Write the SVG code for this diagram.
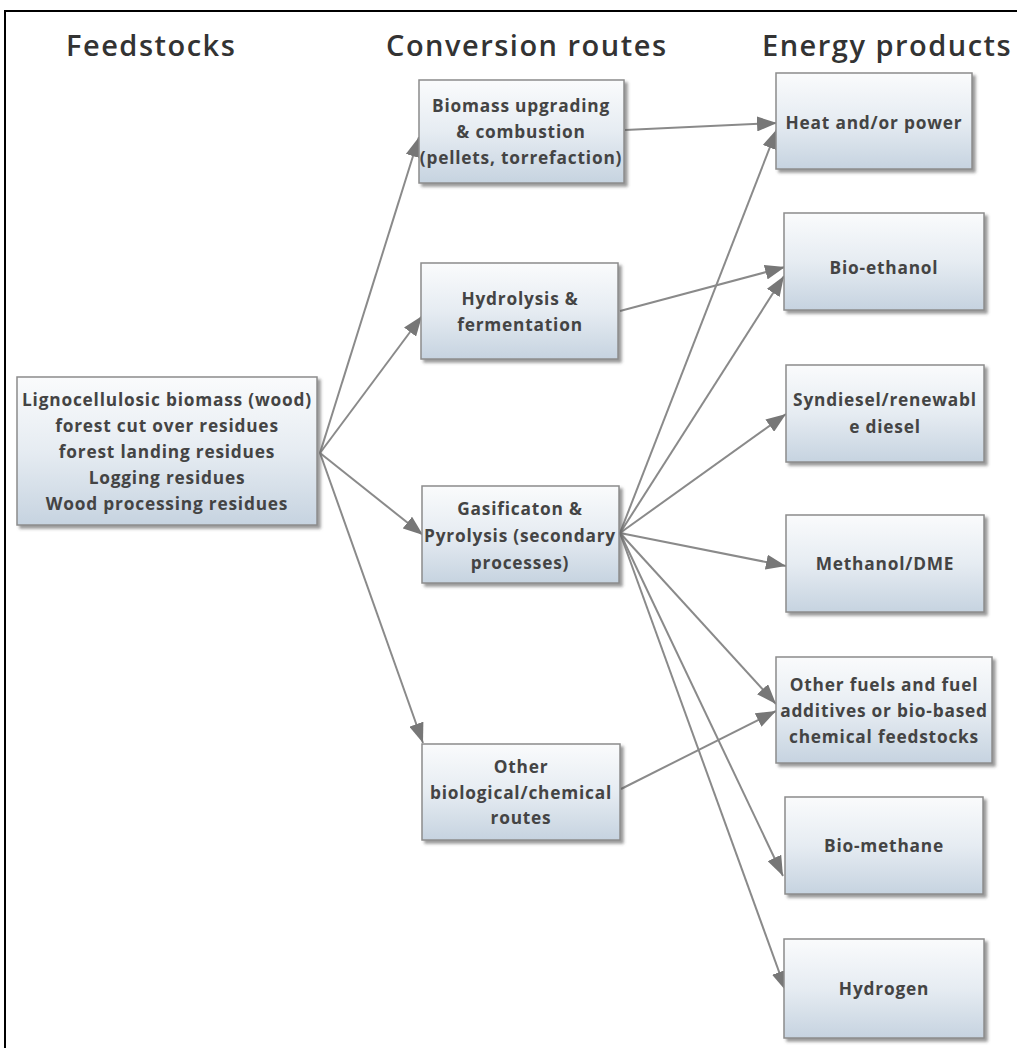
<svg xmlns="http://www.w3.org/2000/svg" width="1017" height="1048" viewBox="0 0 1017 1048">
<style>
.title{font-family:"Open Sans","Liberation Sans",sans-serif;font-weight:600;font-size:29px;letter-spacing:1.5px;fill:#333;text-anchor:start}
.lbl{font-family:"Open Sans","Liberation Sans",sans-serif;font-weight:700;font-size:17.3px;letter-spacing:0.8px;fill:#444;text-anchor:middle}
.box{fill:url(#g);stroke:#8c8c8c;stroke-width:1.5;filter:url(#sh)}
.con{stroke:#8a8a8a;stroke-width:2;fill:none;marker-end:url(#ah)}
</style>
<defs>
<linearGradient id="g" x1="0" y1="0" x2="0" y2="1">
<stop offset="0" stop-color="#fafbfc"/>
<stop offset="0.5" stop-color="#e6ecf2"/>
<stop offset="1" stop-color="#c6d3e0"/>
</linearGradient>
<filter id="sh" x="-10%" y="-10%" width="130%" height="130%">
<feDropShadow dx="3" dy="3" stdDeviation="1.5" flood-color="#555" flood-opacity="0.6"/>
</filter>
<marker id="ah" markerUnits="userSpaceOnUse" markerWidth="21" markerHeight="15" refX="20" refY="7.5" orient="auto">
<path d="M0,0 L20,7.5 L0,15 z" fill="#777"/>
</marker>
</defs>
<rect width="1017" height="1048" fill="#fff"/>
<path d="M5,1048 V11 H1017" stroke="#000" stroke-width="2" fill="none"/>
<g id="titles">
<text class="title" x="66" y="56">Feedstocks</text>
<text class="title" x="386" y="56">Conversion routes</text>
<text class="title" x="762" y="56">Energy products</text>
</g>
<g id="connectors">
<line class="con" x1="320" y1="453" x2="419" y2="137"/>
<line class="con" x1="320" y1="453" x2="422" y2="316"/>
<line class="con" x1="320" y1="453" x2="423" y2="535"/>
<line class="con" x1="320" y1="453" x2="423" y2="743"/>
<line class="con" x1="625" y1="130" x2="777" y2="123"/>
<line class="con" x1="620" y1="311" x2="785" y2="267"/>
<line class="con" x1="620" y1="533" x2="777" y2="129"/>
<line class="con" x1="620" y1="533" x2="784" y2="276"/>
<line class="con" x1="620" y1="533" x2="786" y2="414"/>
<line class="con" x1="620" y1="533" x2="786" y2="566"/>
<line class="con" x1="620" y1="533" x2="776" y2="704"/>
<line class="con" x1="620" y1="533" x2="783" y2="876"/>
<line class="con" x1="620" y1="533" x2="786" y2="991"/>
<line class="con" x1="621" y1="789" x2="776" y2="711"/>
</g>
<g id="feedstock">
<rect class="box" x="17" y="377" width="300" height="148"/>
<text class="lbl" x="167" y="406">Lignocellulosic biomass (wood)</text>
<text class="lbl" x="167" y="432">forest cut over residues</text>
<text class="lbl" x="167" y="458">forest landing residues</text>
<text class="lbl" x="167" y="484">Logging residues</text>
<text class="lbl" x="167" y="510">Wood processing residues</text>
</g>
<g id="upgrading">
<rect class="box" x="419" y="80" width="205" height="103"/>
<text class="lbl" x="521" y="112">Biomass upgrading</text>
<text class="lbl" x="521" y="138">&amp; combustion</text>
<text class="lbl" x="521" y="164">(pellets, torrefaction)</text>
</g>
<g id="hydrolysis">
<rect class="box" x="421" y="263" width="197" height="96"/>
<text class="lbl" x="520" y="305">Hydrolysis &amp;</text>
<text class="lbl" x="520" y="331">fermentation</text>
</g>
<g id="gasification">
<rect class="box" x="422" y="486" width="197" height="97"/>
<text class="lbl" x="520" y="515">Gasificaton &amp;</text>
<text class="lbl" x="520" y="542">Pyrolysis (secondary</text>
<text class="lbl" x="520" y="569">processes)</text>
</g>
<g id="otherbio">
<rect class="box" x="422" y="744" width="198" height="96"/>
<text class="lbl" x="521" y="773">Other</text>
<text class="lbl" x="521" y="799">biological/chemical</text>
<text class="lbl" x="521" y="824">routes</text>
</g>
<g id="heat">
<rect class="box" x="776" y="73" width="196" height="96"/>
<text class="lbl" x="874" y="129">Heat and/or power</text>
</g>
<g id="ethanol">
<rect class="box" x="784" y="213" width="200" height="97"/>
<text class="lbl" x="884" y="274">Bio-ethanol</text>
</g>
<g id="syndiesel">
<rect class="box" x="786" y="365" width="198" height="97"/>
<text class="lbl" x="885" y="406">Syndiesel/renewabl</text>
<text class="lbl" x="885" y="433">e diesel</text>
</g>
<g id="methanol">
<rect class="box" x="786" y="515" width="198" height="97"/>
<text class="lbl" x="885" y="570">Methanol/DME</text>
</g>
<g id="otherfuels">
<rect class="box" x="776" y="657" width="216" height="106"/>
<text class="lbl" x="884" y="691">Other fuels and fuel</text>
<text class="lbl" x="884" y="717">additives or bio-based</text>
<text class="lbl" x="884" y="743">chemical feedstocks</text>
</g>
<g id="biomethane">
<rect class="box" x="785" y="797" width="198" height="97"/>
<text class="lbl" x="884" y="852">Bio-methane</text>
</g>
<g id="hydrogen">
<rect class="box" x="784" y="939" width="200" height="99"/>
<text class="lbl" x="884" y="995">Hydrogen</text>
</g>
</svg>
